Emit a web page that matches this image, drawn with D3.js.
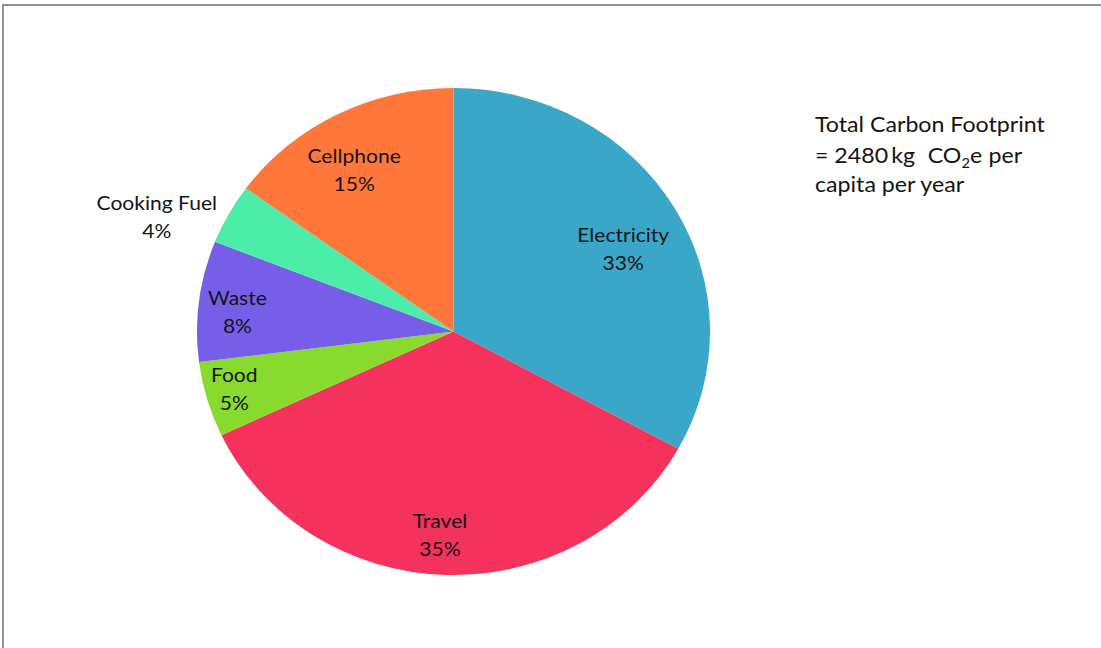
<!DOCTYPE html>
<html>
<head>
<meta charset="utf-8">
<script src="https://cdn.jsdelivr.net/npm/d3@7"></script>
<style>
  html, body { margin: 0; padding: 0; background: #fff; }
  svg { display: block; }
  text { font-family: Lato, "Open Sans", sans-serif; fill: #141414; }
</style>
</head>
<body>
<svg id="chart" width="1101" height="648"></svg>
<script>
// data
const categories = ["Electricity", "Travel", "Food", "Waste", "Cooking Fuel", "Cellphone"];
const shares = [33, 35, 5, 8, 4, 15];
const colors = ["#3aa6c8", "#f5325c", "#88db2e", "#775ee8", "#4ceda8", "#ff773a"];
const note_lines = ["Total Carbon Footprint", "capita per year"];

// label placement (radius in px, angle nudge in degrees), excel style best fit
const label_radius = [181, 204, 216, 206, 304, 187];
const label_shift = [3.5, 1.8, 0.7, -1.9, -6.7, -3.3];

const svg = d3.select("#chart");
const cx = 453.5, cy = 331.5;
const radius = 243.5;
const stretch = 1.0534;   // picture is a bit wider than tall
const font_size = 20;
const line_gap = 28;

// frame
svg.append("rect")
    .attr("x", 3).attr("y", 5)
    .attr("width", 1200).attr("height", 700)
    .attr("fill", "none")
    .attr("stroke", "#8f9493")
    .attr("stroke-width", 2);

const pie = d3.pie().sort(null).value(d => d);
const arcs = pie(shares);

const arc = d3.arc().innerRadius(0).outerRadius(radius);

const g = svg.append("g")
    .attr("transform", `translate(${cx},${cy}) scale(${stretch},1)`);

g.selectAll("path").data(arcs).enter().append("path")
    .attr("d", arc)
    .attr("fill", (d, i) => colors[i]);

// labels
arcs.forEach((d, i) => {
    let mid = (d.startAngle + d.endAngle) / 2 + label_shift[i] * Math.PI / 180;
    let lx = cx + Math.sin(mid) * label_radius[i] * stretch;
    let ly = cy - Math.cos(mid) * label_radius[i];
    let t = svg.append("text")
        .attr("transform", `translate(${lx},${ly}) scale(${stretch},1)`)
        .attr("text-anchor", "middle")
        .style("font-size", font_size + "px");
    t.append("tspan").attr("x", 0).attr("y", -7).text(categories[i]);
    t.append("tspan").attr("x", 0).attr("y", -7 + line_gap).text(shares[i] + "%");
});

// note on the right
const note = svg.append("text")
    .attr("transform", `translate(815,0) scale(${stretch},1)`)
    .style("font-size", "22px");
note.append("tspan").attr("x", 0).attr("y", 132).text(note_lines[0]);
note.append("tspan").attr("x", 0).attr("y", 192).text(note_lines[1]);

// second line with subscript
const l2_text = svg.append("text")
    .attr("transform", `translate(815,163) scale(${stretch},1)`)
    .style("font-size", "22px");
l2_text.append("tspan").text("= 2480");
l2_text.append("tspan").attr("dx", 3).text("kg");
l2_text.append("tspan").attr("dx", 12).text("CO");
l2_text.append("tspan").attr("dy", 5).style("font-size", "14px").text("2");
l2_text.append("tspan").attr("dy", -5).text("e");
l2_text.append("tspan").attr("dx", 6).text("per");
</script>
</body>
</html>
